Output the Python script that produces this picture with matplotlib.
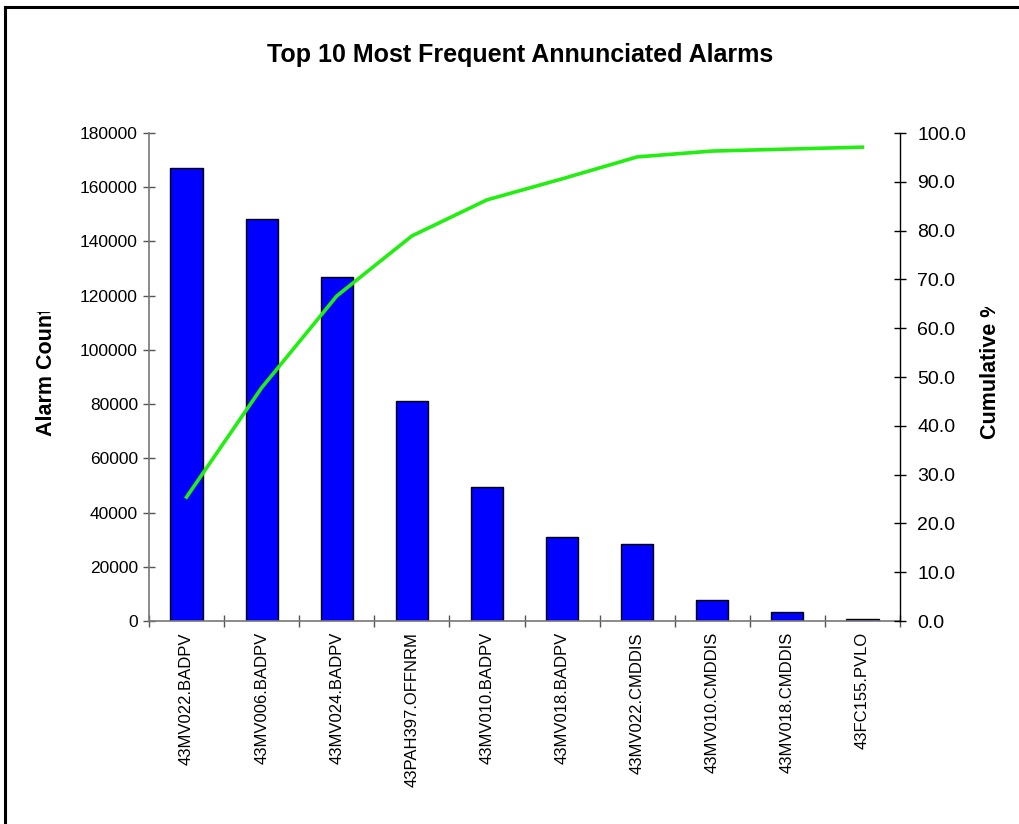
import matplotlib
matplotlib.use('Agg')

import numpy as np
import matplotlib.pyplot as plt
from matplotlib.lines import Line2D
from matplotlib.transforms import Bbox

plt.rcParams['font.family'] = ['Liberation Sans', 'DejaVu Sans']

alarm_tags = ['43MV022.BADPV', '43MV006.BADPV', '43MV024.BADPV', '43PAH397.OFFNRM',
              '43MV010.BADPV', '43MV018.BADPV', '43MV022.CMDDIS', '43MV010.CMDDIS',
              '43MV018.CMDDIS', '43FC155.PVLO']
alarm_counts = [167000, 148400, 127000, 81000, 49300, 30800, 28400, 7700, 3300, 800]
cumulative_pct = [25.4, 47.8, 66.6, 78.9, 86.3, 90.6, 95.1, 96.3, 96.7, 97.1]

W, H = 1019, 824


def px_x(x):
    return x / W


def px_y(y):
    return 1 - y / H


fig = plt.figure(figsize=(W / 100, H / 100), dpi=100)
ax = fig.add_axes([px_x(149), px_y(621), px_x(900) - px_x(149), px_y(133) - px_y(621)])

x = np.arange(len(alarm_tags))
ax.bar(x, alarm_counts, width=0.43, color='#0000ff', edgecolor='black', linewidth=1.0, zorder=2)

ax.set_xlim(-0.5, len(alarm_tags) - 0.5)
ax.set_ylim(0, 180000)
ax.set_yticks(np.arange(0, 180001, 20000))
ax.set_yticklabels([str(v) for v in range(0, 180001, 20000)], fontsize=12.5)
ax.tick_params(axis='y', direction='inout', length=9, width=1, color='#555555', pad=3.5)

ax.set_xticks(x)
ax.set_xticklabels(alarm_tags, rotation=90, fontsize=12)
ax.tick_params(axis='x', which='major', length=0, pad=8)
ax.set_xticks(np.arange(-0.5, len(alarm_tags)), minor=True)
ax.tick_params(axis='x', which='minor', direction='inout', length=9, width=1, color='#555555')

for side in ['top', 'right']:
    ax.spines[side].set_visible(False)
for side in ['left', 'bottom']:
    ax.spines[side].set_color('#777777')
    ax.spines[side].set_linewidth(1.2)

ax2 = ax.twinx()
ax2.plot(x, cumulative_pct, color='#22ee11', linewidth=2.6, zorder=3)
ax2.set_ylim(0, 100)
ax2.set_yticks(np.arange(0, 101, 10))
ax2.set_yticklabels([f'{v:.1f}' for v in range(0, 101, 10)], fontsize=14)
ax2.tick_params(axis='y', direction='inout', length=9, width=1, color='black', pad=8)
for side in ['top', 'left', 'bottom']:
    ax2.spines[side].set_visible(False)
ax2.spines['right'].set_color('black')
ax2.spines['right'].set_linewidth(1.0)

fig.text(px_x(520), px_y(55), 'Top 10 Most Frequent Annunciated Alarms',
         ha='center', va='center', fontsize=18, fontweight='bold')

# axis titles are cut off at the top in the original
left_lbl = fig.text(px_x(47), px_y(436), 'Alarm Count', rotation=90, ha='center', va='bottom',
                    fontsize=15.5, fontweight='bold')
left_lbl.set_clip_box(Bbox([[0, 0], [W, H - 312]]))
left_lbl.set_clip_on(True)

right_lbl = fig.text(px_x(990), px_y(439), 'Cumulative %', rotation=90, ha='center', va='bottom',
                     fontsize=15.5, fontweight='bold')
right_lbl.set_clip_box(Bbox([[0, 0], [W, H - 307]]))
right_lbl.set_clip_on(True)

# outer frame
fig.add_artist(Line2D([px_x(5), px_x(5)], [0, px_y(7)], color='black', linewidth=2.2))
fig.add_artist(Line2D([px_x(5), 1], [px_y(7), px_y(7)], color='black', linewidth=2.2))

fig.savefig('out.png', dpi=100)
